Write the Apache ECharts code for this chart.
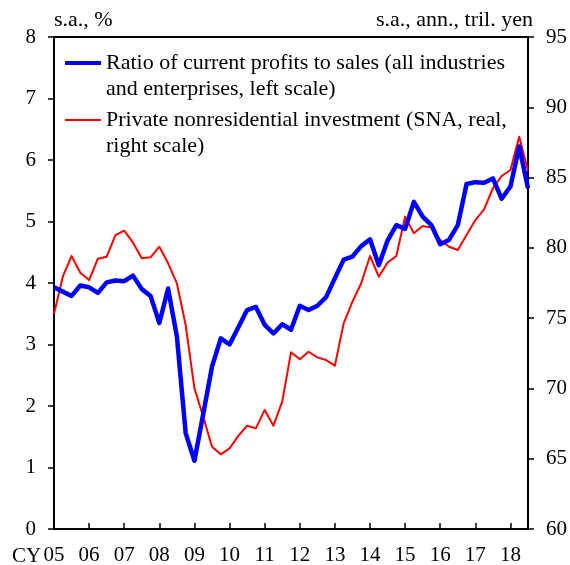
<!DOCTYPE html>
<html><head><meta charset="utf-8">
<script src="https://cdn.jsdelivr.net/npm/echarts@6/dist/echarts.min.js"></script>
<style>html,body{margin:0;padding:0;background:#fff}#c{width:570px;height:565px}</style>
</head><body><div id="c"></div>
<script>
// Quarterly categories, 2005Q1 .. 2018Q3
const quarters = [
 '2005Q1','2005Q2','2005Q3','2005Q4','2006Q1','2006Q2','2006Q3','2006Q4',
 '2007Q1','2007Q2','2007Q3','2007Q4','2008Q1','2008Q2','2008Q3','2008Q4',
 '2009Q1','2009Q2','2009Q3','2009Q4','2010Q1','2010Q2','2010Q3','2010Q4',
 '2011Q1','2011Q2','2011Q3','2011Q4','2012Q1','2012Q2','2012Q3','2012Q4',
 '2013Q1','2013Q2','2013Q3','2013Q4','2014Q1','2014Q2','2014Q3','2014Q4',
 '2015Q1','2015Q2','2015Q3','2015Q4','2016Q1','2016Q2','2016Q3','2016Q4',
 '2017Q1','2017Q2','2017Q3','2017Q4','2018Q1','2018Q2','2018Q3'
];
const yearLabels = ['05','06','07','08','09','10','11','12','13','14','15','16','17','18'];

// Ratio of current profits to sales (%), left scale
const profitRatio = [
 3.93,3.86,3.79,3.96,3.93,3.84,4.01,4.04,4.03,4.12,
 3.90,3.79,3.35,3.91,3.13,1.56,1.11,1.87,2.64,3.10,
 3.00,3.28,3.56,3.61,3.32,3.18,3.33,3.24,3.63,3.56,
 3.63,3.77,4.08,4.38,4.43,4.60,4.71,4.29,4.69,4.94,
 4.88,5.32,5.08,4.94,4.63,4.70,4.94,5.61,5.64,5.63,
 5.70,5.37,5.57,6.22,5.54
];
// Private nonresidential investment (tril. yen), right scale
const investment = [
 75.30,77.95,79.42,78.23,77.71,79.23,79.37,80.91,81.22,80.37,
 79.26,79.33,80.08,78.90,77.48,74.51,70.01,67.99,65.85,65.31,
 65.74,66.62,67.35,67.16,68.47,67.35,69.06,72.57,72.07,72.61,
 72.21,72.02,71.62,74.63,76.17,77.48,79.42,77.95,78.95,79.42,
 82.22,81.04,81.56,81.44,80.56,80.08,79.85,80.91,81.98,82.74,
 84.24,85.11,85.54,87.91,85.49
];

const seriesNames = [
 'Ratio of current profits to sales (all industries\nand enterprises, left scale)',
 'Private nonresidential investment (SNA, real,\nright scale)'
];
const leftUnit = 's.a., %';
const rightUnit = 's.a., ann., tril. yen';

const FONT = '"Liberation Serif","Times New Roman",serif';
const chart = echarts.init(document.getElementById('c'), null, {renderer:'canvas'});
const legendBase = {
  orient:'vertical', left:65, padding:0, itemWidth:36, icon:'rect',
  formatter: n => '\n' + n,
  textStyle:{fontFamily:FONT, fontSize:22, lineHeight:26, color:'#000'}
};
chart.setOption({
  animation:false,
  backgroundColor:'#fff',
  grid:{left:54, right:42, top:37, bottom:36, show:true, borderColor:'#000', borderWidth:2,
        containLabel:false, outerBoundsMode:'none'},
  legend:[
    Object.assign({}, legendBase, {top:24, itemHeight:4, data:[seriesNames[0]]}),
    Object.assign({}, legendBase, {top:81, itemHeight:2, data:[seriesNames[1]]})
  ],
  xAxis:{
    type:'category', data:quarters, boundaryGap:false,
    axisLine:{lineStyle:{color:'#000', width:2}},
    axisTick:{inside:true, length:6, interval:3, lineStyle:{color:'#000', width:1.5}},
    axisLabel:{interval:3, margin:16, fontFamily:FONT, fontSize:21, color:'#000',
      formatter:(v, i) => yearLabels[Math.floor(i/4)]},
    splitLine:{show:false}
  },
  yAxis:[
    {type:'value', min:0, max:8, interval:1, position:'left',
     name:leftUnit, nameLocation:'end', nameGap:6,
     nameTextStyle:{fontFamily:FONT, fontSize:22, color:'#000', align:'left', verticalAlign:'bottom'},
     axisLine:{show:true, lineStyle:{color:'#000', width:2}},
     axisTick:{show:true, length:6, lineStyle:{color:'#000', width:1.5}},
     axisLabel:{margin:18, fontFamily:FONT, fontSize:21, color:'#000'},
     splitLine:{show:false}},
    {type:'value', min:60, max:95, interval:5, position:'right',
     name:rightUnit, nameLocation:'end', nameGap:6,
     nameTextStyle:{fontFamily:FONT, fontSize:22, color:'#000', align:'right', verticalAlign:'bottom', padding:[0,-5,0,0]},
     axisLine:{show:true, lineStyle:{color:'#000', width:2}},
     axisTick:{show:true, length:6, lineStyle:{color:'#000', width:1.5}},
     axisLabel:{margin:18, fontFamily:FONT, fontSize:21, color:'#000'},
     splitLine:{show:false}}
  ],
  graphic:[
    {type:'text', left:12, top:546, style:{text:'CY', font:'21px '+FONT, fill:'#000'}}
  ],
  series:[
    {name:seriesNames[0], type:'line', yAxisIndex:0, data:profitRatio, symbol:'none',
     lineStyle:{color:'#0000FF', width:4.5, join:'round'}, itemStyle:{color:'#0000FF'}, z:3},
    {name:seriesNames[1], type:'line', yAxisIndex:1, data:investment, symbol:'none',
     lineStyle:{color:'#FF0000', width:2, join:'round'}, itemStyle:{color:'#FF0000'}, z:2}
  ]
});
</script></body></html>
